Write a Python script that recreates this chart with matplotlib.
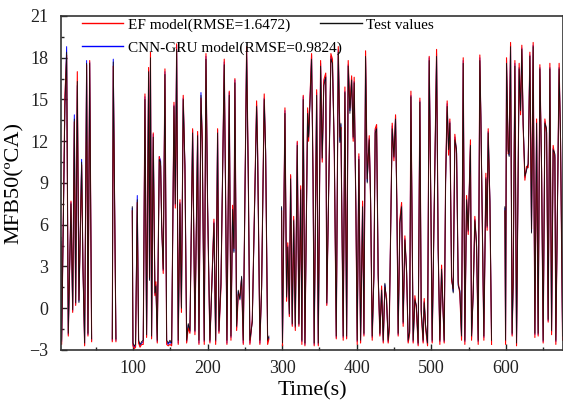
import numpy as np
import matplotlib
matplotlib.use('Agg')
import matplotlib.pyplot as plt
from matplotlib.ticker import MultipleLocator

nan = float('nan')

# Time (s) - nan marks gaps in the record
time = [3.5, 4.4, 8.8, 11.1, 13.3, 16.9, 19.2, 21.4, 23.2, 25.4, 27.6, 31.2, 33.0, 35.2, 37.9, 39.7, 42.0, 44.6,
        nan,
        72.3, 73.6, 77.2,
        nan,
        99.1, 100.0, 102.0, 103.5, 105.8, 107.6, 109.5, 111.6, 113.8, 116.1, 118.3, 121.0, 122.2, 123.5, 125.0,
        127.2, 129.5, 130.8, 132.6, 135.3, 137.1, 138.5, 140.6, 142.9, 145.2, 147.3, 149.6, 151.9, 155.0, 156.8,
        158.6, 160.7, 163.0, 165.0, 167.4, 169.7, 172.0, 174.1, 176.4, 180.0, 183.1, 186.7, 188.5, 191.2, 192.9,
        195.6, 197.9, 200.1, 203.2, 205.5, 208.6, 210.9, 213.5, 215.3, 218.0, 222.4, 224.3, 226.0, 229.1, 231.4,
        233.6, 235.4, 236.7, 239.0, 241.2, 243.4, 245.7, 247.9, 252.4, 254.6, 256.8, 260.0, 263.5, 265.8, 267.2,
        270.2, 272.5, 276.0, 277.9, 280.6, 282.3,
        nan,
        299.3, 300.5, 303.8, 306.0, 307.6, 309.7, 311.4, 313.6, 315.5, 317.7, 320.3, 322.5, 324.9, 326.5, 328.3,
        330.6, 334.2, 335.5, 336.6, 339.5, 341.5, 343.0, 346.3, 348.5, 351.6, 353.8, 355.9, 358.5, 359.9, 365.4,
        367.5, 370.0, 372.6, 375.3, 377.5, 378.8, 381.9, 384.2, 386.5, 388.6, 390.9, 393.2, 395.3, 396.6, 398.9,
        400.7, 402.9, 405.2, 407.9, 409.7, 411.9, 414.1, 415.4, 416.8, 418.6, 420.8, 423.1, 424.8, 426.7, 428.8,
        431.1, 433.4, 435.6, 437.8, 440.1, 442.2, 443.6, 447.6, 449.9, 452.1, 453.9, 455.6, 457.9, 460.2, 462.3,
        464.6, 466.9, 469.0, 471.0, 472.7, 475.7, 478.0, 480.0, 482.4, 484.7, 486.5, 489.1, 490.5, 492.5, 495.0,
        497.2, 499.5, 501.2, 507.1, 509.2, 511.5, 513.8, 517.3, 519.2, 521.3, 523.2, 524.9, 527.2, 529.4, 531.6,
        533.9, 536.1, 538.3, 540.6, 542.8, 545.0, 547.3, 549.5, 552.5, 554.0, 556.2, 558.4, 560.7, 562.9, 565.1,
        566.5, 570.5, 573.2, 574.9, 576.3, 578.6, 580.8,
        nan,
        598.7, 599.6, 600.9, 603.1, 604.4, 606.3, 608.4, 609.8, 612.1, 614.3, 617.8, 619.7, 621.4, 623.2, 625.5,
        627.7, 629.9, 632.2, 634.4, 636.6, 638.9, 641.2, 643.3, 645.6, 647.9, 650.0, 652.3, 654.6, 656.7, 659.0,
        661.3, 663.4, 665.7, 667.0, 671.4, 673.3, 676.0]

# Test values MFB50 (oCA)
test = [5.1, -2.3, 14.5, 18.4, -1.8, 7.5, -0.1, 13.6, 0.4, 16.3, 0.4, 10.5, 2.8, -2.5, 17.6, -1.8, 17.6, -2.2,
        nan,
        -2.2, 17.7, -2.2,
        nan,
        7.3, -2.5, -2.7, -2.6, 7.8, -2.3, -2.6, -2.4, -2.3, 15.0, -1.9, 17.0, 2.0, 18.0, -2.0,
        12.3, 1.1, 1.6, -2.3, 10.7, 10.5, 5.9, 2.8, 16.8, -2.3, -2.5, -2.3, -2.5, 14.5, 7.5,
        18.6, -2.3, 7.5, 0.0, 15.0, 10.3, -2.3, -1.1, -1.6, 12.6, -1.6, 12.4, -2.3, 15.3, 11.9,
        -2.3, 17.9, 7.5, -2.3, 1.1, 6.1, -2.3, 12.6, -1.6, 1.8, 17.5, 7.5, -2.3, 15.3, -2.0,
        7.1, 4.0, 16.2, -1.3, 1.3, 0.6, 2.3, -2.3, 18.4, 9.5, -2.3, -1.0, 8.6, 14.5, 10.9,
        -2.3, 1.3, 15.0, 11.4, -2.3, -2.0,
        nan,
        7.3, -2.5, 14.0, 0.8, 4.4, -0.4, 9.3, -1.1, 6.3, -1.3, 11.7, -1.1, 8.5, -2.3, 15.0,
        -2.5, 14.0, 12.3, 13.6, 17.9, 9.2, -2.5, 15.3, -2.5, 17.4, 10.8, 16.0, 16.6, 0.4, 17.9,
        17.6, 11.3, -2.0, 18.4, 11.9, 13.3, -2.0, 15.5, -2.0, 17.4, 14.0, 16.4, 12.3, 16.2, 7.3,
        -2.3, 10.7, -2.3, 7.3, -1.8, 18.1, 9.0, 10.9, 12.1, 8.0, -2.0, 2.3, 12.6, 12.9, 2.5,
        -1.8, 1.3, -2.3, 1.8, 0.4, -2.3, -1.3, 12.9, 10.9, 13.6, 7.1, -1.8, 6.1, 7.3, -1.0,
        4.9, 2.8, -2.3, -1.6, 15.2, -2.3, 0.6, 0.2, -2.5, 14.8, -0.1, -2.3, 0.4, -1.3, -2.5,
        17.8, 7.3, -2.3, 18.1, 4.2, -2.3, 2.8, -2.3, 9.0, 14.5, 11.4, 13.3, 2.3, 1.1, 12.1,
        11.4, 1.6, 1.3, -2.0, 17.6, -2.3, 7.8, 5.6, 11.7, -2.0, 1.0, 6.3, 4.7, -2.3, 17.8,
        13.8, -2.0, 9.3, 5.9, 12.6, 7.8, -2.3,
        nan,
        7.3, -2.3, 17.6, 11.4, 10.9, 18.8, -1.8, 1.8, 17.4, -2.5, 17.2, 14.2, 18.6, 13.3, 9.5,
        9.9, 10.4, 18.1, 5.4, 18.8, -1.8, 13.3, -1.8, 17.2, 10.1, -2.3, 13.3, 12.9, -0.8, 17.2,
        -1.6, 11.4, 11.1, -2.3, 17.2, 12.3, -2.0]

# EF model prediction
ef = [4.6, -2.6, 15.3, 18.2, -2.0, 7.7, -0.3, 13.4, 0.2, 17.0, 0.6, 10.3, 3.0, -2.7, 17.5, -2.0, 17.8, -2.4,
      nan,
      -2.4, 17.4, -2.4,
      nan,
      7.0, -2.7, -2.9, -2.8, 7.6, -2.5, -2.8, -2.6, -2.6, 15.4, -2.1, 17.3, 2.2, 18.4, -2.2,
      12.6, 0.9, 1.9, -2.5, 10.9, 10.2, 6.2, 2.5, 17.2, -2.6, -2.7, -2.6, -2.7, 14.8, 7.2,
      19.0, -2.6, 7.8, -0.3, 15.3, 10.0, -2.5, -1.4, -1.8, 12.9, -1.9, 12.7, -2.6, 15.1, 12.3,
      -2.6, 18.3, 7.2, -2.5, 1.4, 6.4, -2.6, 12.9, -1.8, 1.5, 17.9, 7.9, -2.6, 15.6, -2.3,
      7.4, 4.3, 16.5, -1.6, 1.0, 0.9, 2.1, -2.6, 18.8, 9.9, -2.6, -0.8, 8.9, 14.9, 11.3,
      -2.6, 1.6, 15.4, 11.0, -2.6, -2.2,
      nan,
      7.0, -2.7, 14.4, 0.5, 4.7, -0.6, 9.6, -1.3, 6.6, -1.6, 12.0, -1.3, 8.8, -2.6, 15.3,
      -2.7, 14.4, 12.0, 14.0, 18.3, 9.5, -2.7, 15.7, -2.7, 17.8, 10.5, 16.4, 16.9, 0.2, 18.3,
      17.9, 11.0, -2.2, 18.8, 12.3, 13.0, -2.3, 15.9, -2.2, 17.8, 14.4, 16.7, 12.0, 16.6, 7.0,
      -2.6, 11.1, -2.5, 7.7, -2.0, 18.5, 9.3, 10.6, 12.4, 7.7, -2.3, 2.6, 12.9, 13.2, 2.2,
      -2.0, 1.6, -2.5, 1.5, 0.7, -2.5, -1.6, 13.3, 10.6, 13.9, 7.4, -2.0, 6.4, 7.6, -1.3,
      5.2, 2.5, -2.5, -1.8, 15.6, -2.5, 0.9, -0.1, -2.7, 15.1, -0.4, -2.5, 0.7, -1.5, -2.7,
      18.1, 7.0, -2.5, 18.6, 4.5, -2.6, 3.1, -2.5, 9.3, 14.9, 11.0, 13.6, 2.0, 1.4, 12.5,
      11.1, 1.9, 1.0, -2.3, 18.0, -2.6, 8.1, 5.3, 12.1, -2.3, 1.3, 6.6, 4.4, -2.6, 18.2,
      13.5, -2.3, 9.7, 5.6, 12.9, 7.5, -2.6,
      nan,
      7.0, -2.6, 18.0, 11.1, 11.2, 19.1, -2.0, 2.1, 17.8, -2.7, 17.6, 13.9, 18.9, 13.0, 9.2,
      10.2, 10.1, 18.4, 5.7, 19.1, -2.1, 13.6, -2.0, 17.5, 9.8, -2.5, 13.6, 12.6, -1.0, 17.6,
      -1.9, 11.7, 10.8, -2.6, 17.6, 12.0, -2.3]

# CNN-GRU model prediction
cnn = [4.8, -2.4, 14.8, 18.8, -1.9, 7.6, -0.2, 13.9, 0.3, 16.0, 0.5, 10.7, 2.9, -2.6, 17.8, -1.9, 17.7, -2.3,
       nan,
       -2.3, 17.9, -2.3,
       nan,
       7.2, -2.6, -2.8, -2.7, 8.1, -2.4, -2.7, -2.5, -2.4, 15.2, -2.0, 17.1, 2.1, 17.8, -2.1,
       12.5, 1.0, 1.7, -2.4, 10.9, 10.6, 6.0, 2.7, 17.0, -2.4, -2.6, -2.4, -2.6, 14.6, 7.4,
       18.9, -2.5, 7.6, 0.1, 15.1, 10.2, -2.4, -1.2, -1.7, 12.8, -1.7, 12.5, -2.5, 15.5, 12.0,
       -2.4, 18.1, 7.4, -2.4, 1.2, 6.2, -2.4, 12.8, -1.7, 1.7, 17.7, 7.6, -2.5, 15.5, -2.1,
       7.2, 4.1, 16.4, -1.4, 1.2, 0.7, 2.2, -2.5, 18.6, 9.7, -2.5, -0.9, 8.7, 14.6, 11.1,
       -2.5, 1.4, 15.1, 11.3, -2.4, -2.1,
       nan,
       7.2, -2.6, 14.2, 0.7, 4.5, -0.5, 9.5, -1.2, 6.4, -1.4, 11.9, -1.2, 8.6, -2.4, 15.2,
       -2.6, 14.2, 12.2, 13.8, 18.2, 9.1, -2.6, 15.5, -2.6, 17.6, 10.7, 16.2, 16.7, 0.3, 18.1,
       17.7, 11.2, -2.1, 18.6, 12.0, 13.2, -2.1, 15.6, -2.1, 17.5, 14.2, 16.5, 12.2, 16.3, 7.2,
       -2.4, 10.9, -2.4, 7.5, -1.9, 18.0, 9.1, 10.8, 12.2, 7.9, -2.1, 2.4, 12.8, 13.0, 2.4,
       -1.9, 1.4, -2.4, 1.7, 0.5, -2.4, -1.4, 13.1, 10.8, 13.8, 7.2, -1.9, 6.2, 7.4, -1.1,
       5.0, 2.7, -2.4, -1.7, 15.3, -2.4, 0.7, 0.1, -2.6, 14.9, -0.2, -2.4, 0.5, -1.4, -2.6,
       18.0, 7.2, -2.4, 18.3, 4.3, -2.4, 2.9, -2.4, 9.1, 14.7, 11.3, 13.4, 2.2, 1.2, 12.3,
       11.3, 1.7, 1.2, -2.1, 17.8, -2.4, 7.9, 5.5, 11.8, -2.1, 1.1, 6.4, 4.6, -2.4, 18.0,
       13.7, -2.1, 9.4, 5.8, 12.7, 7.7, -2.4,
       nan,
       7.2, -2.4, 17.8, 11.3, 11.0, 18.9, -1.9, 1.9, 17.6, -2.6, 17.3, 14.1, 18.7, 13.2, 9.4,
       10.0, 10.3, 18.2, 5.5, 18.9, -1.9, 13.4, -1.9, 17.3, 10.0, -2.4, 13.4, 12.8, -0.9, 17.3,
       -1.7, 11.5, 11.0, -2.4, 17.3, 12.2, -2.1]

plt.rcParams['font.family'] = ['Liberation Serif', 'DejaVu Serif']

fig = plt.figure(figsize=(5.63, 4.01), dpi=100)
ax = fig.add_axes([0.1083, 0.1272, 0.8917, 0.8329])

l_cnn, = ax.plot(time, cnn, color='#0000ff', lw=0.7, label='CNN-GRU model(RMSE=0.9824)')
l_ef, = ax.plot(time, ef, color='#ff0000', lw=0.8, label='EF model(RMSE=1.6472)')
l_test, = ax.plot(time, test, color='#111111', lw=0.6, label='Test values')

ax.set_xlim(3.5, 676.6)
ax.set_ylim(-3, 21)
ax.xaxis.set_major_locator(MultipleLocator(100))
ax.xaxis.set_minor_locator(MultipleLocator(50))
ax.yaxis.set_major_locator(MultipleLocator(3))
ax.yaxis.set_minor_locator(MultipleLocator(1.5))
ax.tick_params(which='both', direction='in', top=False, right=False, labelsize=13, colors='#222222')
ax.tick_params(axis='y', pad=9)
ax.tick_params(axis='x', pad=7)
ax.tick_params(which='major', length=4, width=1.0)
ax.tick_params(which='minor', length=2.5, width=1.0)
for s in ax.spines.values():
    s.set_linewidth(1.2)
    s.set_color('#333333')

ax.set_xlabel('Time(s)', fontsize=16, labelpad=3)
ax.set_ylabel('MFB50(ºCA)', fontsize=16, labelpad=4)

leg = ax.legend([l_ef, l_cnn, l_test],
                ['EF model(RMSE=1.6472)', 'CNN-GRU model(RMSE=0.9824)', 'Test values'],
                loc='upper left', bbox_to_anchor=(0.03, 1.012), ncol=2, frameon=False,
                fontsize=11, handlelength=2.7, handletextpad=0.3, labelspacing=0.58,
                columnspacing=-1.4, borderaxespad=0)
for h in leg.get_lines():
    h.set_linewidth(1.0)

fig.savefig('out.png', dpi=100)
